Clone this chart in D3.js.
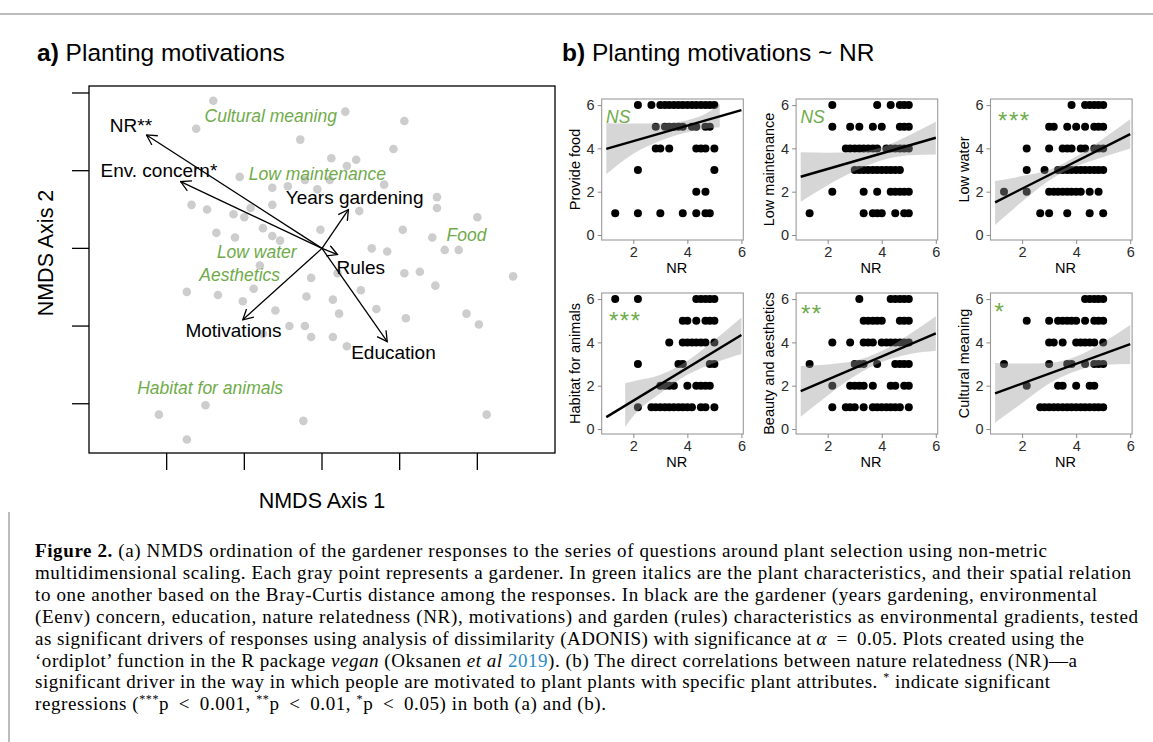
<!DOCTYPE html>
<html>
<head>
<meta charset="utf-8">
<script src="https://cdn.jsdelivr.net/npm/d3@7"></script>
<style>
body { margin: 0; background: #fff; }
svg { display: block; }
</style>
</head>
<body>
<div id="chart"></div>
<script>
// ---------- panel a: NMDS ordination (data units) ----------
var sites = [
  [-0.70,0.95],[0.15,0.88],[0.53,0.82],[-0.81,0.77],[-0.14,0.70],[0.46,0.64],[0.06,0.58],[0.22,0.57],[-0.53,0.46],[0.16,0.53],
  [-0.32,0.39],[-0.22,0.40],[-0.11,0.44],[-0.03,0.38],[0.05,0.44],[0.40,0.41],[-0.32,0.28],[-0.84,0.28],[-0.74,0.25],[-0.57,0.22],
  [-0.50,0.20],[-0.46,0.26],[-0.38,0.13],[-0.68,0.10],[-0.56,0.07],[-0.32,0.08],[-0.27,0.05],[-0.01,0.12],[0.24,0.24],[0.52,0.12],
  [0.32,0.00],[0.42,-0.02],[0.74,0.33],[0.74,0.26],[1.00,0.20],[0.71,0.07],[0.79,-0.01],[0.88,-0.01],[-0.40,-0.11],[1.23,-0.18],
  [-0.07,-0.19],[0.10,-0.16],[0.53,-0.16],[0.63,-0.15],[-0.87,-0.28],[-0.67,-0.30],[-0.44,-0.26],[-0.51,-0.34],[-0.10,-0.31],[0.07,-0.33],
  [0.25,-0.27],[0.73,-0.24],[-0.30,-0.40],[0.11,-0.42],[0.35,-0.39],[0.93,-0.42],[1.01,-0.49],[-0.21,-0.50],[-0.11,-0.50],[0.54,-0.45],
  [-0.07,-0.57],[0.07,-0.57],[0.16,-0.63],[-0.75,-1.01],[-1.05,-1.07],[-0.12,-1.11],[1.06,-1.07],[-0.87,-1.23],[-0.38,-0.55]
];
var vectorNames = ["NR**", "Env. concern*", "Years gardening", "Rules", "Motivations", "Education"];
var vectorEnds = [[-1.13,0.73],[-0.91,0.43],[0.17,0.25],[0.10,-0.04],[-0.51,-0.46],[0.42,-0.60]];
var vectorLabelPos = [[-1.23,0.79],[-1.05,0.50],[0.21,0.33],[0.25,-0.12],[-0.57,-0.53],[0.46,-0.67]];
var speciesNames = ["Cultural meaning", "Low maintenance", "Food", "Low water", "Aesthetics", "Habitat for animals"];
var speciesPos = [[-0.33,0.85],[-0.03,0.48],[0.93,0.09],[-0.42,-0.02],[-0.53,-0.17],[-0.72,-0.90]];
var nmdsTicks = [-1, -0.5, 0, 0.5, 1];

// ---------- panel b: score ~ NR, rows are [score, [NR values]] ----------
var panelNames = ["Provide food", "Low maintenance", "Low water", "Habitat for animals", "Beauty and aesthetics", "Cultural meaning"];
var panelSig = ["NS", "NS", "***", "***", "**", "*"];
var sigPos = [[0.99,5.46],[0.99,5.46],[1.11,5.54],[1.10,5.26],[1.01,5.58],[1.18,5.68]];

var provideFood = [
  [6,[2.17,2.67,3.0,3.17,3.33,3.5,3.67,3.83,4.0,4.17,4.33,4.5,4.67,4.83,5.0]],
  [5,[2.83,3.17,3.33,3.5,3.67,3.83,4.17,4.33,4.67,4.83]],
  [4,[2.83,3.0,3.33,4.33,4.5,4.67,5.0]],
  [3,[2.17,5.0]],
  [2,[4.33,4.67]],
  [1,[1.33,2.17,3.0,3.83,4.33,4.67,4.83]]
];
var lowMaintenance = [
  [6,[2.17,3.83,4.33,4.67,4.83,5.0]],
  [5,[2.17,2.83,3.17,3.67,4.0,4.67,4.83,5.0]],
  [4,[2.67,2.83,3.0,3.17,3.33,3.5,3.67,3.83,4.17,4.33,4.5,4.67,4.83,5.0]],
  [3,[3.0,3.17,3.33,3.5,3.67,3.83,4.0,4.17,4.33,4.5,4.67]],
  [2,[2.17,3.33,3.83,4.33,4.5,4.67,4.83,5.0]],
  [1,[1.33,3.33,3.67,3.83,4.0,4.5,4.83,5.0]]
];
var lowWater = [
  [6,[3.83,4.33,4.5,4.67,4.83,5.0]],
  [5,[3.0,3.17,3.67,4.0,4.33,4.67,4.83,5.0]],
  [4,[2.17,3.0,3.5,3.67,3.83,4.17,4.33,4.67,4.83,5.0]],
  [3,[2.17,2.83,3.33,3.5,3.67,3.83,4.0,4.17,4.33,4.5,4.67,4.83,5.0]],
  [2,[1.33,2.17,3.0,3.17,3.33,3.5,3.67,3.83,4.0,4.17,4.5,4.83]],
  [1,[2.67,3.0,3.67,4.5,5.0]]
];
var habitat = [
  [6,[1.33,2.17,4.33,4.5,4.67,4.83,5.0]],
  [5,[3.83,4.0,4.33,4.67,4.83,5.0]],
  [4,[3.33,3.83,4.0,4.17,4.33,4.5,4.67,5.0]],
  [3,[2.17,3.67,3.83,4.83,5.0]],
  [2,[3.0,3.17,3.33,3.5,4.0,4.33,4.5,4.67,4.83]],
  [1,[2.17,2.67,2.83,3.0,3.17,3.33,3.5,3.67,3.83,4.0,4.17,4.5,4.67,5.0]]
];
var beauty = [
  [6,[3.17,4.33,4.5,4.67,4.83,5.0]],
  [5,[3.33,3.5,3.67,3.83,4.0,4.67,4.83,5.0]],
  [4,[2.17,2.83,3.33,3.5,3.67,4.0,4.17,4.33,4.5,4.67,4.83,5.0]],
  [3,[1.33,3.0,3.17,3.33,3.83,4.5,4.67,4.83,5.0]],
  [2,[2.17,2.83,3.0,3.17,3.33,3.67,4.33,4.5,4.83,5.0]],
  [1,[2.17,2.67,2.83,3.0,3.33,3.67,3.83,4.0,4.17,4.33,4.5,4.67,5.0]]
];
var cultural = [
  [6,[4.33,4.5,4.67,4.83,5.0]],
  [5,[2.17,3.0,3.33,3.5,3.67,3.83,4.0,4.33,4.67,4.83,5.0]],
  [4,[3.0,3.17,3.5,4.0,4.17,4.33,4.5,4.67,5.0]],
  [3,[1.33,3.0,3.67,3.83,4.33,4.67,4.83,5.0]],
  [2,[2.17,3.33,3.5,4.0,4.5,4.67]],
  [1,[2.67,2.83,3.0,3.17,3.33,3.5,3.67,3.83,4.0,4.17,4.33,4.5,4.67,4.83,5.0]]
];
var panelRows = [provideFood, lowMaintenance, lowWater, habitat, beauty, cultural];

// fitted line end points [x0, y0, x1, y1]
var fitLines = [[1,3.98,6,5.77],[1,2.69,6,4.49],[1,1.51,6,4.66],[1,0.55,6,4.34],[1,1.75,6,4.42],[1,1.65,6,3.92]];
// confidence band
var bandX = [[1,2,3,4,5,5.2],[1,2,3,4,5,6],[1,2,3,4,5,6],[1.7,2,3,4,5,6],[1,2,3,4,5,6],[1,2,3,4,5,6]];
var bandUpper = [[5.16,5.15,5.15,5.3,5.85,6.05],[3.82,3.8,3.82,4.05,4.6,5.23],[2.49,2.72,3.0,3.62,4.45,5.34],
                 [2.11,2.2,2.5,3.15,4.1,5.15],[2.91,2.98,3.15,3.6,4.35,5.21],[3.05,3.02,3.05,3.35,4.0,4.8]];
var bandLower = [[2.8,3.75,4.35,4.75,4.95,4.97],[1.54,2.3,2.95,3.45,3.68,3.72],[0.46,1.55,2.52,3.17,3.6,4.0],
                 [0.1,0.6,1.65,2.5,3.05,3.46],[0.57,1.55,2.45,3.1,3.45,3.61],[0.29,1.2,2.1,2.68,2.95,3.0]];
var nrTicks = [2, 4, 6];
var scoreTicks = [0, 2, 4, 6];

var green = "#6fab4a";
var sans = "'Liberation Sans', Arial, sans-serif";

var svg = d3.select("#chart").append("svg")
  .attr("width", 1153)
  .attr("height", 742)
  .style("font-family", sans);

svg.append("rect").attr("width", 1153).attr("height", 742).attr("fill", "#fff");

// frame lines of the page
svg.append("line").attr("x1", 0).attr("x2", 1153).attr("y1", 14).attr("y2", 14)
  .attr("stroke", "#a6a6a6").attr("stroke-width", 1.5);
svg.append("line").attr("x1", 9).attr("x2", 9).attr("y1", 512).attr("y2", 742)
  .attr("stroke", "#a6a6a6").attr("stroke-width", 1.5);

// arrow head
svg.append("defs").append("marker")
  .attr("id", "head")
  .attr("viewBox", "0 0 12 12")
  .attr("refX", 11).attr("refY", 6)
  .attr("markerWidth", 12).attr("markerHeight", 12)
  .attr("markerUnits", "userSpaceOnUse")
  .attr("orient", "auto")
.append("path")
  .attr("d", "M1,0.5 L11,6 L1,11.5")
  .attr("fill", "none").attr("stroke", "#000").attr("stroke-width", 1.3);

// ---------- panel a ----------
var ax = {left: 89, right: 555, top: 86, bottom: 453};
var x = d3.scaleLinear().domain([-1.5, 1.5]).range([ax.left, ax.right]);
var y = d3.scaleLinear().domain([-1.317, 1.045]).range([ax.bottom, ax.top]);

var title = svg.append("text").attr("x", 37).attr("y", 61).attr("font-size", 24.5);
title.append("tspan").attr("font-weight", "bold").text("a)");
title.append("tspan").text(" Planting motivations");

svg.selectAll(".site")
  .data(sites)
.enter().append("circle")
  .attr("class", "site")
  .attr("r", 4.3)
  .attr("cx", function(d){ return x(d[0]); })
  .attr("cy", function(d){ return y(d[1]); })
  .attr("fill", "#cdcdcd");

svg.append("rect")
  .attr("x", ax.left).attr("y", ax.top)
  .attr("width", ax.right - ax.left).attr("height", ax.bottom - ax.top)
  .attr("fill", "none").attr("stroke", "#000").attr("stroke-width", 1.3);

// R style ticks, no labels
svg.selectAll(".ytick").data(nmdsTicks).enter().append("line")
  .attr("x1", ax.left - 17).attr("x2", ax.left)
  .attr("y1", function(d){ return y(d); }).attr("y2", function(d){ return y(d); })
  .attr("stroke", "#000").attr("stroke-width", 1.3);
svg.selectAll(".xtick").data(nmdsTicks).enter().append("line")
  .attr("y1", ax.bottom).attr("y2", ax.bottom + 17)
  .attr("x1", function(d){ return x(d); }).attr("x2", function(d){ return x(d); })
  .attr("stroke", "#000").attr("stroke-width", 1.3);

svg.append("text")
  .attr("x", (ax.left + ax.right) / 2).attr("y", 500)
  .attr("dy", "0.35em").attr("text-anchor", "middle").attr("font-size", 21.5)
  .text("NMDS Axis 1");
svg.append("text")
  .attr("transform", "translate(45," + 253 + ") rotate(-90)")
  .attr("dy", "0.35em").attr("text-anchor", "middle").attr("font-size", 21.5)
  .text("NMDS Axis 2");

svg.selectAll(".vec")
  .data(vectorEnds)
.enter().append("line")
  .attr("class", "vec")
  .attr("x1", x(0)).attr("y1", y(0))
  .attr("x2", function(d){ return x(d[0]); })
  .attr("y2", function(d){ return y(d[1]); })
  .attr("stroke", "#000").attr("stroke-width", 1.3)
  .attr("marker-end", "url(#head)");

svg.selectAll(".vlab")
  .data(vectorNames)
.enter().append("text")
  .attr("x", function(d, i){ return x(vectorLabelPos[i][0]); })
  .attr("y", function(d, i){ return y(vectorLabelPos[i][1]); })
  .attr("dy", "0.35em").attr("text-anchor", "middle").attr("font-size", 19)
  .text(function(d){ return d; });

svg.selectAll(".slab")
  .data(speciesNames)
.enter().append("text")
  .attr("x", function(d, i){ return x(speciesPos[i][0]); })
  .attr("y", function(d, i){ return y(speciesPos[i][1]); })
  .attr("dy", "0.35em").attr("text-anchor", "middle").attr("font-size", 17.5)
  .attr("font-style", "italic").attr("fill", green)
  .text(function(d){ return d; });

// ---------- panel b ----------
var titleB = svg.append("text").attr("x", 562).attr("y", 61).attr("font-size", 24.5);
titleB.append("tspan").attr("font-weight", "bold").text("b)");
titleB.append("tspan").text(" Planting motivations ~ NR");

var pw = 141.6, ph = 141;
panelNames.forEach(function(name, i){
  var left = 601.7 + 194.4 * (i % 3);
  var top = 99 + 194 * Math.floor(i / 3);
  var px = d3.scaleLinear().domain([0.83, 6.07]).range([left, left + pw]);
  var py = d3.scaleLinear().domain([-0.23, 6.28]).range([top + ph, top]);
  var g = svg.append("g");

  var pts = [];
  panelRows[i].forEach(function(r){
    r[1].forEach(function(v){ pts.push([v, r[0]]); });
  });

  g.selectAll(".pt").data(pts).enter().append("circle")
    .attr("r", 4)
    .attr("cx", function(d){ return px(d[0]); })
    .attr("cy", function(d){ return py(d[1]); })
    .attr("fill", "#000");

  var band = bandX[i].map(function(v, k){ return [v, bandLower[i][k], bandUpper[i][k]]; });
  g.append("path")
    .datum(band)
    .attr("d", d3.area().curve(d3.curveMonotoneX)
      .x(function(d){ return px(d[0]); })
      .y0(function(d){ return py(d[1]); })
      .y1(function(d){ return py(d[2]); }))
    .attr("fill", "#999").attr("fill-opacity", 0.4);

  var f = fitLines[i];
  g.append("line")
    .attr("x1", px(f[0])).attr("y1", py(f[1]))
    .attr("x2", px(f[2])).attr("y2", py(f[3]))
    .attr("stroke", "#000").attr("stroke-width", 2.4);

  g.append("rect")
    .attr("x", left).attr("y", top).attr("width", pw).attr("height", ph)
    .attr("fill", "none").attr("stroke", "#9a9a9a").attr("stroke-width", 1.1);

  var gx = g.append("g")
    .attr("transform", "translate(0," + (top + ph) + ")")
    .call(d3.axisBottom(px).tickValues(nrTicks).tickFormat(d3.format("d")).tickSize(4).tickPadding(3));
  var gy = g.append("g")
    .attr("transform", "translate(" + left + ",0)")
    .call(d3.axisLeft(py).tickValues(scoreTicks).tickFormat(d3.format("d")).tickSize(4).tickPadding(3));
  [gx, gy].forEach(function(a){
    a.attr("font-size", 14.5).attr("font-family", sans);
    a.select(".domain").remove();
    a.selectAll("line").attr("stroke", "#8a8a8a");
    a.selectAll("text")
      .attr("font-size", 14.5)
      .style("font-size", "14.5px")
      .attr("fill", "#2b2b2b");
  });

  g.append("text")
    .attr("x", left + 75).attr("y", top + ph + 28)
    .attr("dy", "0.35em").attr("text-anchor", "middle").attr("font-size", 14.5)
    .text("NR");
  g.append("text")
    .attr("transform", "translate(" + (left - 27) + "," + (top + ph / 2) + ") rotate(-90)")
    .attr("dy", "0.35em").attr("text-anchor", "middle").attr("font-size", 14.5)
    .text(name);

  var s = panelSig[i];
  var sg = g.append("text")
    .attr("x", px(sigPos[i][0])).attr("y", py(sigPos[i][1]))
    .attr("fill", green)
    .attr("text-anchor", s === "*" ? "middle" : "start")
    .text(s);
  if (s === "NS") {
    sg.attr("font-size", 17.5).attr("font-style", "italic").attr("dy", "0.36em");
  } else {
    sg.attr("font-size", 24).attr("letter-spacing", 1.5).attr("dy", "0.58em");
  }
});

// ---------- caption ----------
var captionLines = [
  [["Figure 2.", "b"], [" (a) NMDS ordination of the gardener responses to the series of questions around plant selection using non-metric", ""]],
  [["multidimensional scaling. Each gray point represents a gardener. In green italics are the plant characteristics, and their spatial relation", ""]],
  [["to one another based on the Bray-Curtis distance among the responses. In black are the gardener (years gardening, environmental", ""]],
  [["(Eenv) concern, education, nature relatedness (NR), motivations) and garden (rules) characteristics as environmental gradients, tested", ""]],
  [["as significant drivers of responses using analysis of dissimilarity (ADONIS) with significance at ", ""], ["\u03b1", "i"], [" \u2009=\u2009 0.05. Plots created using the", ""]],
  [["\u2018ordiplot\u2019 function in the R package ", ""], ["vegan", "i"], [" (Oksanen ", ""], ["et al", "i"], [" ", ""], ["2019", "link"], ["). (b) The direct correlations between nature relatedness (NR)\u2014a", ""]],
  [["significant driver in the way in which people are motivated to plant plants with specific plant attributes. ", ""], ["*", "sup"], [" indicate significant", ""]],
  [["regressions (", ""], ["***", "sup"], ["p \u2009<\u2009 0.001, ", ""], ["**", "sup"], ["p \u2009<\u2009 0.01, ", ""], ["*", "sup"], ["p \u2009<\u2009 0.05) in both (a) and (b).", ""]]
];
var captionEnds = [1047, 1131, 1097, 1138, 1084, 1077, 1050, 606];

captionLines.forEach(function(line, i){
  var t = svg.append("text")
    .attr("x", 35).attr("y", 557 + 21.9 * i)
    .attr("font-family", "'Liberation Serif', 'Times New Roman', serif")
    .attr("font-size", 19)
    .attr("fill", "#000");
  line.forEach(function(seg){
    var sp = t.append("tspan").text(seg[0]);
    if (seg[1] === "b") sp.attr("font-weight", "bold");
    if (seg[1] === "i") sp.attr("font-style", "italic");
    if (seg[1] === "link") sp.attr("fill", "#2a8ac6");
    if (seg[1] === "sup") sp.attr("font-size", 12).attr("baseline-shift", "super");
  });
  t.attr("textLength", captionEnds[i] - 35).attr("lengthAdjust", "spacing");
});
</script>
</body>
</html>
